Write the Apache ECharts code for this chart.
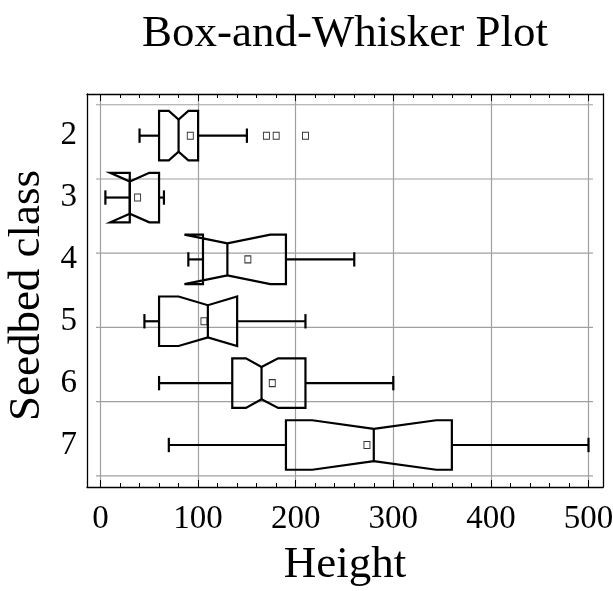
<!DOCTYPE html>
<html><head><meta charset="utf-8">
<script src="https://cdn.jsdelivr.net/npm/echarts@6/dist/echarts.min.js"></script>
<style>html,body{margin:0;padding:0;background:#fff}#c{width:613px;height:591px}</style>
</head><body><div id="c"></div>
<script>
// ---- data ----
const CATEGORIES   = [2, 3, 4, 5, 6, 7];
const LOW_WHISKER  = [40, 5, 90, 45, 60, 70];
const Q1           = [60, 30, 105, 60, 135, 190];
const NOTCH_LOW    = [70, 10, 86, 80, 149, 217];
const MEDIAN       = [80, 30, 130, 110, 165, 280];
const NOTCH_HIGH   = [90, 50, 174, 140, 182, 344];
const Q3           = [100, 60, 190, 140, 210, 360];
const HIGH_WHISKER = [150, 65, 260, 210, 300, 500];
const MEAN         = [92, 38, 151, 106, 176, 273];
const OUTLIER_CAT  = [2, 2, 2];
const OUTLIER_VAL  = [170, 180, 210];
const Y_GRID       = [1.5, 2.7, 3.9, 5.1, 6.3, 7.5];

// ---- layout ----
const FONT = "'Liberation Serif', 'Times New Roman', serif";
const FL = 87, FR = 603, FT = 94, FB = 487;
const X0PX = 100.5, X500PX = 588.5, PPX = (X500PX - X0PX) / 500;
const XMIN = -(X0PX - FL) / PPX, XMAX = 500 + (FR - X500PX) / PPX;
const Y2PX = 135.67, Y7PX = 445, PPY = (Y7PX - Y2PX) / 5;
const YMIN = 2 - (Y2PX - FT) / PPY, YMAX = 7 + (FB - Y7PX) / PPY;
const GX0 = -4.6, GX1 = 504.6;
const BOX_H = 0.4, NOTCH_H = 0.26, CAP_H = 0.116;
const LW = 2.2;

const boxData = CATEGORIES.map((c, i) => [c, LOW_WHISKER[i], Q1[i], NOTCH_LOW[i], MEDIAN[i], NOTCH_HIGH[i], Q3[i], HIGH_WHISKER[i]]);
const meanData = CATEGORIES.map((c, i) => [MEAN[i], c]);
const outData = OUTLIER_CAT.map((c, i) => [OUTLIER_VAL[i], c]);

const chart = echarts.init(document.getElementById('c'), null, {renderer: 'canvas'});
const lineStyle = {stroke: '#000', lineWidth: LW, fill: null};

chart.setOption({
  animation: false,
  backgroundColor: '#fff',
  title: {
    text: 'Box-and-Whisker Plot', left: 345, top: 12, textAlign: 'center', padding: 0,
    textStyle: {fontFamily: FONT, fontSize: 45, fontWeight: 'normal', color: '#000'}
  },
  grid: [
    {left: FL, top: FT, width: FR - FL, height: FB - FT, containLabel: false, outerBoundsMode: 'none'},
    {left: X0PX, top: FT, width: X500PX - X0PX, height: FB - FT, containLabel: false, outerBoundsMode: 'none'}
  ],
  xAxis: [
    {type: 'value', gridIndex: 0, position: 'bottom', min: XMIN, max: XMAX,
     axisLine: {show: true, onZero: false, lineStyle: {color: '#000', width: 1.3}},
     axisTick: {show: false},
     axisLabel: {show: true, margin: 16, fontFamily: FONT, fontSize: 33, color: '#000', showMinLabel: false, showMaxLabel: false},
     splitLine: {show: true, showMinLine: false, showMaxLine: false, lineStyle: {color: '#a0a0a0', width: 1.2}},
     name: 'Height', nameLocation: 'middle', nameGap: 56,
     nameTextStyle: {fontFamily: FONT, fontSize: 45, color: '#000'}},
    {type: 'value', gridIndex: 0, position: 'top', min: XMIN, max: XMAX,
     axisLine: {show: true, onZero: false, lineStyle: {color: '#000', width: 1.3}},
     axisTick: {show: false}, axisLabel: {show: false}, splitLine: {show: false}},
    {type: 'value', gridIndex: 1, position: 'bottom', min: 0, max: 500, interval: 100,
     axisLine: {show: false, onZero: false},
     axisTick: {show: true, inside: true, length: 7, lineStyle: {color: '#000', width: 1}},
     minorTick: {show: true, splitNumber: 5, length: 4, lineStyle: {color: '#000', width: 1}},
     axisLabel: {show: false}, splitLine: {show: false}},
    {type: 'value', gridIndex: 1, position: 'top', min: 0, max: 500, interval: 100,
     axisLine: {show: false, onZero: false},
     axisTick: {show: true, inside: true, length: 7, lineStyle: {color: '#000', width: 1}},
     minorTick: {show: true, splitNumber: 5, length: 4, lineStyle: {color: '#000', width: 1}},
     axisLabel: {show: false}, splitLine: {show: false}}
  ],
  yAxis: [
    {type: 'value', gridIndex: 0, position: 'left', inverse: true, min: YMIN, max: YMAX,
     axisLine: {show: true, onZero: false, lineStyle: {color: '#000', width: 1.3}},
     axisTick: {show: false},
     axisLabel: {show: true, margin: 10, fontFamily: FONT, fontSize: 33, color: '#000', showMinLabel: false, showMaxLabel: false},
     splitLine: {show: false},
     name: 'Seedbed class', nameLocation: 'middle', nameRotate: 90, nameGap: 37,
     nameTextStyle: {fontFamily: FONT, fontSize: 45, color: '#000', padding: [0, 10, 0, 0]}},
    {type: 'value', gridIndex: 0, position: 'right', inverse: true, min: YMIN, max: YMAX,
     axisLine: {show: true, onZero: false, lineStyle: {color: '#000', width: 1.3}},
     axisTick: {show: false}, axisLabel: {show: false}, splitLine: {show: false}},
    {type: 'value', gridIndex: 1, show: false, min: 0, max: 1}
  ],
  series: [
    {
      type: 'custom', xAxisIndex: 0, yAxisIndex: 0, z: 1, silent: true, clip: false,
      data: Y_GRID.map(v => [v]),
      renderItem: function (params, api) {
        const v = api.value(0);
        const a = api.coord([GX0, v]), b = api.coord([GX1, v]);
        return {type: 'line', shape: {x1: a[0], y1: a[1], x2: b[0], y2: b[1]},
                style: {stroke: '#a0a0a0', lineWidth: 1.2}};
      }
    },
    {
      type: 'custom', xAxisIndex: 0, yAxisIndex: 0, z: 3, silent: true, clip: false,
      data: boxData,
      renderItem: function (params, api) {
        const c = api.value(0), lw = api.value(1), q1 = api.value(2), nl = api.value(3),
              md = api.value(4), nh = api.value(5), q3 = api.value(6), hw = api.value(7);
        const P = (x, y) => api.coord([x, y]);
        const t = c - BOX_H, b = c + BOX_H;
        const poly = [P(q1, t), P(nl, t), P(md, c - NOTCH_H), P(nh, t), P(q3, t),
                      P(q3, b), P(nh, b), P(md, c + NOTCH_H), P(nl, b), P(q1, b)];
        const seg = (x1, y1, x2, y2) => {
          const p = P(x1, y1), q = P(x2, y2);
          return {type: 'line', shape: {x1: p[0], y1: p[1], x2: q[0], y2: q[1]}, style: lineStyle};
        };
        return {type: 'group', children: [
          {type: 'polygon', shape: {points: poly}, style: {fill: null, stroke: '#000', lineWidth: LW, lineJoin: 'miter'}},
          seg(md, c - NOTCH_H, md, c + NOTCH_H),
          seg(lw, c, q1, c),
          seg(q3, c, hw, c),
          seg(lw, c - CAP_H, lw, c + CAP_H),
          seg(hw, c - CAP_H, hw, c + CAP_H)
        ]};
      }
    },
    {
      type: 'scatter', xAxisIndex: 0, yAxisIndex: 0, z: 4, silent: true,
      symbol: 'rect', symbolSize: [6, 7],
      itemStyle: {color: 'rgba(255,255,255,0)', borderColor: '#000', borderWidth: 1},
      data: meanData
    },
    {
      type: 'scatter', xAxisIndex: 0, yAxisIndex: 0, z: 4, silent: true,
      symbol: 'rect', symbolSize: [6, 7],
      itemStyle: {color: 'rgba(255,255,255,0)', borderColor: '#000', borderWidth: 1},
      data: outData
    }
  ]
});
</script>
</body></html>
